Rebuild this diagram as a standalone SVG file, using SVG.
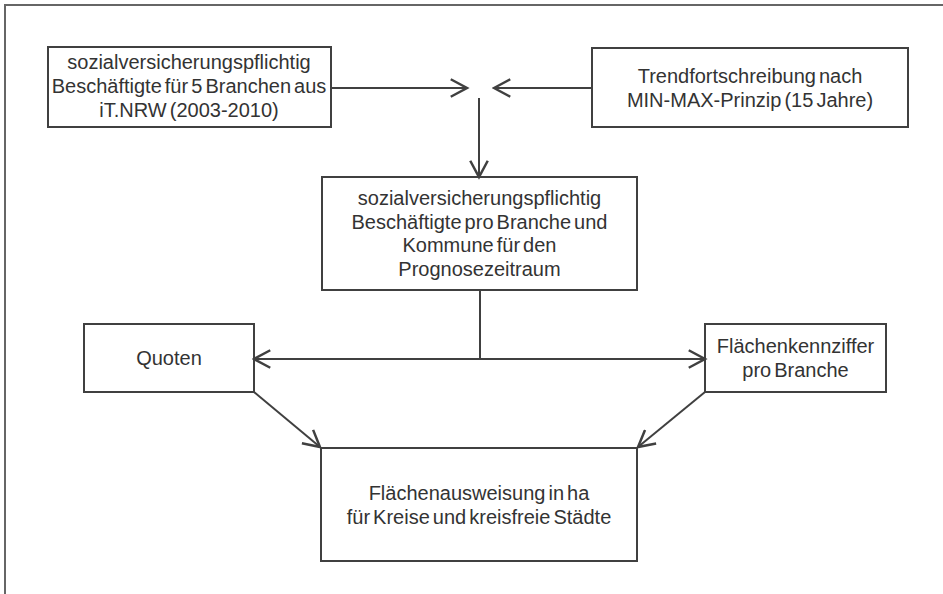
<svg xmlns="http://www.w3.org/2000/svg" width="943" height="594" viewBox="0 0 943 594">
<style>
.box{fill:#fff;stroke:#404040;stroke-width:2}
.t{font-family:"Liberation Sans",Arial,sans-serif;font-size:20px;fill:#333;text-anchor:middle;word-spacing:-2.5px}
.c{fill:none;stroke:#404040;stroke-width:2}
.frame{fill:none;stroke:#666;stroke-width:2}
</style>
<defs>
<marker id="a" markerUnits="userSpaceOnUse" markerWidth="20" markerHeight="20" refX="14" refY="8" orient="auto" viewBox="0 0 16 16">
<polyline points="1,1 14,8 1,15" fill="none" stroke="#404040" stroke-width="2"/>
</marker>
</defs>
<rect width="943" height="594" fill="#fff"/>
<path class="frame" d="M5,594 V5 H943"/>
<g id="n1"><rect class="box" x="48" y="47" width="283" height="80"/>
<text class="t" x="189" y="69">sozialversicherungspflichtig</text>
<text class="t" x="189" y="93">Beschäftigte für 5 Branchen aus</text>
<text class="t" x="189" y="117">iT.NRW (2003-2010)</text></g>
<g id="n2"><rect class="box" x="592" y="48" width="316" height="79"/>
<text class="t" x="750" y="83">Trendfortschreibung nach</text>
<text class="t" x="750" y="107">MIN-MAX-Prinzip (15 Jahre)</text></g>
<g id="n3"><rect class="box" x="322" y="177" width="315" height="113"/>
<text class="t" x="479.5" y="205">sozialversicherungspflichtig</text>
<text class="t" x="479.5" y="229">Beschäftigte pro Branche und</text>
<text class="t" x="479.5" y="252">Kommune für den</text>
<text class="t" x="479.5" y="276">Prognosezeitraum</text></g>
<g id="n4"><rect class="box" x="84" y="324" width="170" height="68"/>
<text class="t" x="169" y="365">Quoten</text></g>
<g id="n5"><rect class="box" x="705" y="324" width="181" height="68"/>
<text class="t" x="795.5" y="353">Flächenkennziffer</text>
<text class="t" x="795.5" y="377">pro Branche</text></g>
<g id="n6"><rect class="box" x="321" y="448" width="316" height="113"/>
<text class="t" x="479" y="500">Flächenausweisung in ha</text>
<text class="t" x="479" y="524">für Kreise und kreisfreie Städte</text></g>
<g id="connectors">
<line class="c" x1="331" y1="88" x2="467" y2="88" marker-end="url(#a)"/>
<line class="c" x1="592" y1="88" x2="494" y2="88" marker-end="url(#a)"/>
<line class="c" x1="479" y1="98" x2="479" y2="177" marker-end="url(#a)"/>
<line class="c" x1="480" y1="290" x2="480" y2="359"/>
<line class="c" x1="480" y1="359" x2="254" y2="359" marker-end="url(#a)"/>
<line class="c" x1="480" y1="359" x2="705" y2="359" marker-end="url(#a)"/>
<line class="c" x1="254" y1="392" x2="320" y2="447" marker-end="url(#a)"/>
<line class="c" x1="705" y1="392" x2="638" y2="447" marker-end="url(#a)"/>
</g>
</svg>
